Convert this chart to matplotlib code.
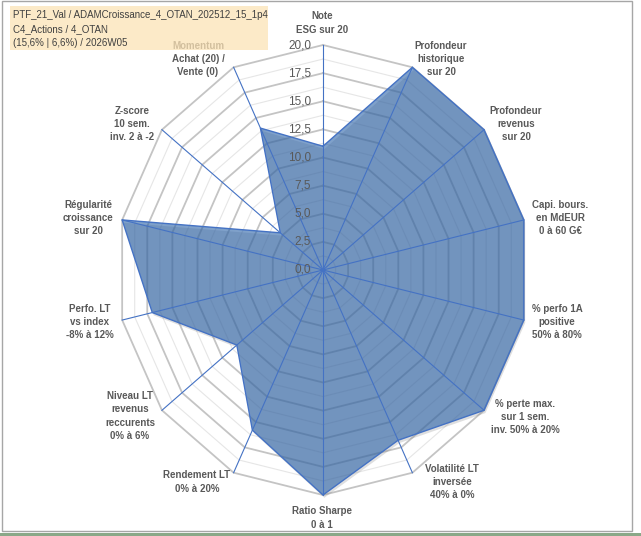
import numpy as np
import matplotlib.pyplot as plt
from matplotlib.patches import Rectangle
from matplotlib.transforms import offset_copy

# axes of the radar, clockwise from the top
labels = ["Note\nESG sur 20",
          "Profondeur\nhistorique\nsur 20",
          "Profondeur\nrevenus\nsur 20",
          "Capi. bours.\nen MdEUR\n0 à 60 G€",
          "% perfo 1A\npositive\n50% à 80%",
          "% perte max.\nsur 1 sem.\ninv. 50% à 20%",
          "Volatilité LT\ninversée\n40% à 0%",
          "Ratio Sharpe\n0 à 1",
          "Rendement LT\n0% à 20%",
          "Niveau LT\nrevenus\nreccurents\n0% à 6%",
          "Perfo. LT\nvs index\n-8% à 12%",
          "Régularité\ncroissance\nsur 20",
          "Z-score\n10 sem.\ninv. 2 à -2",
          "Momentum\nAchat (20) /\nVente (0)"]
values = [11.0, 20.0, 20.0, 20.0, 20.0, 20.0, 16.8, 20.0, 15.8, 10.7, 17.0, 20.0, 5.3, 14.0]
ticks = [0, 2.5, 5, 7.5, 10, 12.5, 15, 17.5, 20]
title_lines = ["PTF_21_Val / ADAMCroissance_4_OTAN_202512_15_1p4",
               "C4_Actions / 4_OTAN",
               "(15,6% | 6,6%) / 2026W05"]

W, H = 641, 536
cx, cy = 323, 270          # centre in pixels (from top)
rx, ry = 206, 225          # radius of the 20 ring, in pixels
rmax = 20

# label centres in pixels, as Excel laid them out
label_px = [(322, 23), (441, 59), (516, 124), (560, 218), (557, 322), (525, 417),
            (452, 482), (322, 518), (197, 482), (130, 416), (90, 322), (88, 218),
            (132, 124), (198, 59)]

fig = plt.figure(figsize=(W / 100, H / 100), dpi=100)
ax = fig.add_axes([0, 0, 1, 1])
ax.set_xlim(-cx / rx * rmax, (W - cx) / rx * rmax)
ax.set_ylim(-(H - cy) / ry * rmax, cy / ry * rmax)
ax.axis('off')

n = len(labels)
theta = np.arange(n) * 2 * np.pi / n
ct = np.append(theta, theta[0])

# grid polygons
for r in np.arange(1.25, 20.01, 1.25):
    major = abs(r / 2.5 - round(r / 2.5)) < 1e-6
    ax.plot(r * np.sin(ct), r * np.cos(ct),
            color='#C4C4C4' if major else '#E6E6E6',
            lw=1.3 if major else 0.8, zorder=1)

# data polygon with a soft shadow
v = np.append(values, values[0])
xs, ys = v * np.sin(ct), v * np.cos(ct)
sh = offset_copy(ax.transData, fig=fig, x=1.0, y=-2.0, units='points')
ax.fill(xs, ys, color='#808080', alpha=0.25, lw=0, transform=sh, zorder=2)
ax.fill(xs, ys, facecolor='#2A62A8', alpha=0.6, lw=0, zorder=3)
ax.plot(xs, ys, color='#4472C4', lw=1.0, zorder=5)

# spokes
for t in theta:
    ax.plot([0, rmax * np.sin(t)], [0, rmax * np.cos(t)], color='#4472C4', lw=0.8, zorder=4)

# scale labels on the top axis
for t in ticks:
    ax.text(-12 / rx * rmax, t, f"{t:.1f}".replace('.', ','), ha='right', va='center',
            fontsize=8.5, color='#595959', family='Liberation Sans', zorder=6)

# category labels
for lab, (px, py) in zip(labels, label_px):
    fig.text(px / W, 1 - py / H, lab, ha='center', va='center', ma='center',
             fontsize=7, fontweight='bold', color='#595959', family='Liberation Sans',
             linespacing=1.4)

# title box, drawn over the Momentum label
fig.patches.append(Rectangle((10 / W, 1 - 50 / H), 258 / W, 44 / H, transform=fig.transFigure,
                             facecolor='#FCE3B6', alpha=0.75, edgecolor='none', zorder=10))
for i, line in enumerate(title_lines):
    fig.text(13 / W, 1 - (15 + 14 * i) / H, line, ha='left', va='center', fontsize=7.0,
             color='#404040', family='Liberation Sans', zorder=11)

# chart frame
fig.patches.append(Rectangle((2 / W, 1 - 531 / H), 630 / W, 530 / H, transform=fig.transFigure,
                             facecolor='none', edgecolor='#A6A6A6', lw=1, zorder=12))
fig.patches.append(Rectangle((0, 0), 1, 3 / H, transform=fig.transFigure,
                             facecolor='#8AA888', edgecolor='none', zorder=12))

fig.savefig('out.png', dpi=100)
